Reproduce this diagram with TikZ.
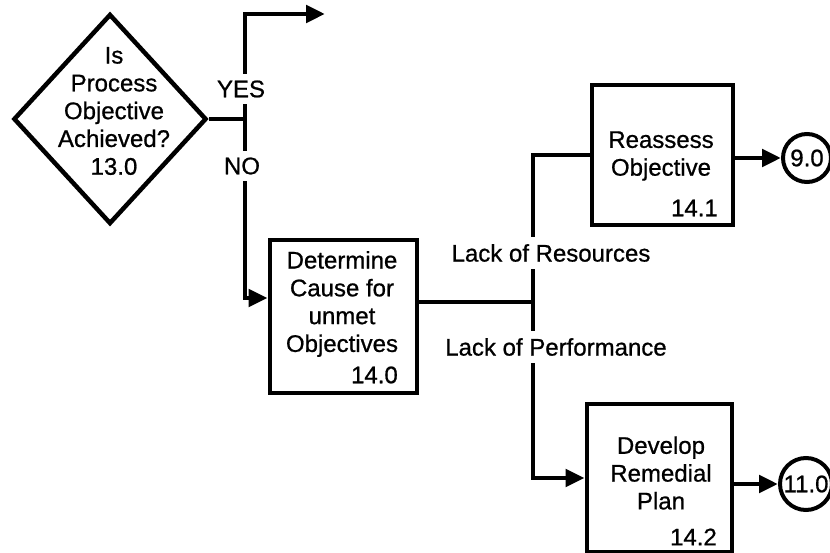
\documentclass[tikz,border=0pt]{standalone}
\usepackage{fontspec}
\setmainfont{Liberation Sans}[FakeBold=0.8]
\usetikzlibrary{arrows.meta,shapes.geometric}

\tikzset{
  line/.style={line width=4.8pt, line join=miter},
  arr/.style={line, -{Triangle[length=19pt,width=17pt]}},
  stepbox/.style={draw, line width=4.8pt, inner sep=0pt},
  decision/.style={draw, diamond, line width=4.5pt, inner sep=0pt},
  connector/.style={draw, circle, line width=4pt, inner sep=0pt},
  txt/.style={inner sep=0pt, align=center},
  branch/.style={fill=white, inner sep=0pt, inner ysep=7pt},
}

\begin{document}
\begin{tikzpicture}[x=1pt, y=-1pt, font=\fontsize{24}{27.8}\selectfont]
\useasboundingbox[fill=white] (0,0) rectangle (830,553);

% shapes
\node[decision, minimum width=193pt, minimum height=210pt] (dec) at (110,119) {};
\node[stepbox, minimum width=147pt, minimum height=153pt] (det) at (343.5,316.5) {};
\node[stepbox, minimum width=141pt, minimum height=140pt] (rea) at (662.5,155) {};
\node[stepbox, minimum width=145pt, minimum height=148pt] (dev) at (659.5,478) {};
\node[connector, minimum size=48pt] (c9) at (807,158) {9.0};
\node[connector, minimum size=52pt] (c11) at (806,484) {11.0};

% texts inside the shapes
\node[txt] (decT) at (114,111) {Is\\Process\\Objective\\Achieved?\\13.0};
\node[txt] (detT) at (342,304) {Determine\\Cause for\\unmet\\Objectives};
\node[txt, anchor=east] (detN) at (398,375) {14.0};
\node[txt] (reaT) at (661,156) {Reassess\\Objective};
\node[txt, anchor=east] (reaN) at (718,208) {14.1};
\node[txt] (devT) at (661,473) {Develop\\Remedial\\Plan};
\node[txt, anchor=east] (devN) at (717,537) {14.2};

% junctions
\coordinate (jy) at (245,119);
\coordinate (jyes) at (245,14);
\coordinate (yesend) at (325,14);
\coordinate (jno) at (245,298);
\coordinate (js) at (533,302);

% connectors
\draw[line] (dec.east) -- (jy);
\draw[arr] (jy) -- (jyes) -- (yesend);
\draw[arr] (jy) -- (jno) -- (jno -| det.west);
\draw[line] (det.east |- js) -- (js);
\draw[line] (js) |- (rea.west);
\draw[arr] (js) |- (dev.west);
\draw[arr] (rea.east |- c9.west) -- (c9.west);
\draw[arr] (dev.east |- c11.west) -- (c11.west);

% branch labels
\node[branch] (yes) at (241,89) {YES};
\node[branch] (no) at (242,166) {NO};
\node[branch] (res) at (551,253) {Lack of Resources};
\node[branch] (perf) at (556,347) {Lack of Performance};
\end{tikzpicture}
\end{document}
